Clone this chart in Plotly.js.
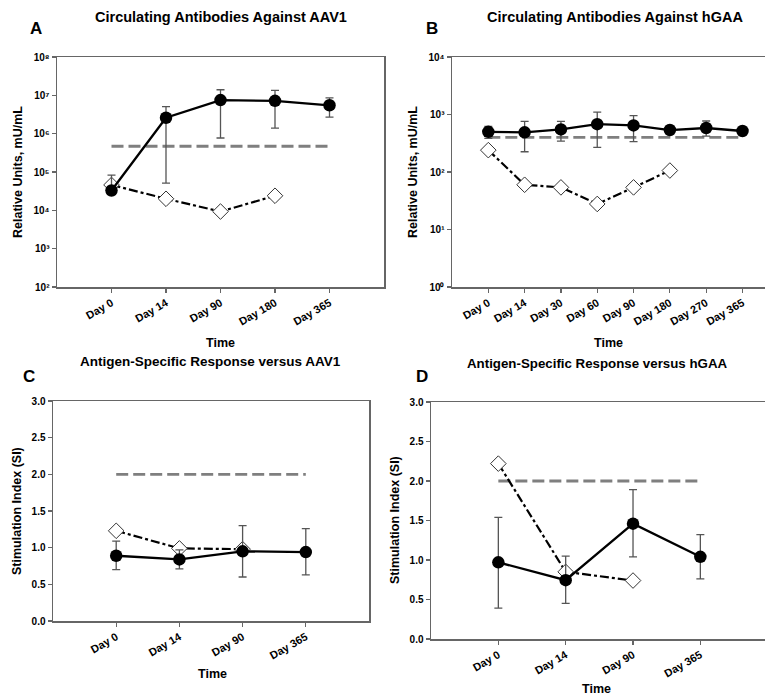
<!DOCTYPE html>
<html>
<head>
<meta charset="utf-8">
<script src="https://cdn.plot.ly/plotly-3.0.1.min.js"></script>
<style>html,body{margin:0;padding:0;background:#fff;}#chart{width:765px;height:696px;}</style>
</head>
<body>
<div id="chart"></div>
<script>
// ---- Panel A: Circulating Antibodies Against AAV1 ----
const A_days = ['Day 0', 'Day 14', 'Day 90', 'Day 180', 'Day 365'];
const A_mean = [3.3e4, 2.6e6, 7.5e6, 7.2e6, 5.5e6];
const A_upper = [8.3e4, 5.1e6, 1.4e7, 1.35e7, 8.6e6];
const A_lower = [3.3e4, 5.1e4, 7.7e5, 1.4e6, 2.7e6];
const A_ctrlDays = ['Day 0', 'Day 14', 'Day 90', 'Day 180'];
const A_ctrl = [4.6e4, 2.0e4, 9.3e3, 2.4e4];
const A_cutoff = 4.7e5;
const A_tickVals = [1e2, 1e3, 1e4, 1e5, 1e6, 1e7, 1e8];
const A_tickText = ['10²', '10³', '10⁴', '10⁵', '10⁶', '10⁷', '10⁸'];

// ---- Panel B: Circulating Antibodies Against hGAA ----
const B_days = ['Day 0', 'Day 14', 'Day 30', 'Day 60', 'Day 90', 'Day 180', 'Day 270', 'Day 365'];
const B_mean = [500, 490, 550, 680, 645, 537, 582, 516];
const B_upper = [624, 758, 758, 1096, 955, 537, 771, 516];
const B_lower = [385, 225, 345, 268, 337, 537, 421, 516];
const B_ctrlDays = ['Day 0', 'Day 14', 'Day 30', 'Day 60', 'Day 90', 'Day 180'];
const B_ctrl = [240, 60, 54, 27.8, 54, 106];
const B_cutoff = 400;
const B_tickVals = [1, 10, 100, 1e3, 1e4];
const B_tickText = ['10⁰', '10¹', '10²', '10³', '10⁴'];

// ---- Panel C: Antigen-Specific Response versus AAV1 ----
const C_days = ['Day 0', 'Day 14', 'Day 90', 'Day 365'];
const C_mean = [0.89, 0.84, 0.95, 0.94];
const C_upper = [1.09, 0.97, 1.30, 1.26];
const C_lower = [0.70, 0.71, 0.60, 0.63];
const C_ctrlDays = ['Day 0', 'Day 14', 'Day 90'];
const C_ctrl = [1.23, 0.99, 0.98];
const C_cutoff = 2.0;

// ---- Panel D: Antigen-Specific Response versus hGAA ----
const D_days = ['Day 0', 'Day 14', 'Day 90', 'Day 365'];
const D_mean = [0.97, 0.745, 1.46, 1.04];
const D_upper = [1.54, 1.05, 1.89, 1.32];
const D_lower = [0.39, 0.45, 1.04, 0.76];
const D_ctrlDays = ['Day 0', 'Day 14', 'Day 90'];
const D_ctrl = [2.22, 0.85, 0.74];
const D_cutoff = 2.0;

const siTickVals = [0, 0.5, 1.0, 1.5, 2.0, 2.5, 3.0];

const FONT = 'Liberation Sans, Arial, sans-serif';
const AXC = '#666666';

function panel(sfx, days, mean, upper, lower, ctrlDays, ctrl, cutoff) {
  const xa = 'x' + sfx, ya = 'y' + sfx;
  return [
    {x: [days[0], days[days.length - 1]], y: [cutoff, cutoff], xaxis: xa, yaxis: ya,
     mode: 'lines', line: {color: '#7f7f7f', width: 2.8, dash: '12px,5px'}, hoverinfo: 'skip'},
    {x: ctrlDays, y: ctrl, xaxis: xa, yaxis: ya, mode: 'lines+markers',
     line: {color: '#000', width: 2.2, dash: 'dashdot'},
     marker: {symbol: 'diamond', size: 12, color: '#fff', line: {color: '#333', width: 1}}},
    {x: days, y: mean, xaxis: xa, yaxis: ya, mode: 'lines+markers',
     line: {color: '#000', width: 2.3},
     marker: {symbol: 'circle', size: 12.5, color: '#000'},
     error_y: {type: 'data', symmetric: false,
       array: upper.map((u, i) => u - mean[i]),
       arrayminus: lower.map((l, i) => mean[i] - l),
       color: '#555', thickness: 1.3, width: 4}}
  ];
}

const data = [].concat(
  panel('', A_days, A_mean, A_upper, A_lower, A_ctrlDays, A_ctrl, A_cutoff),
  panel('2', B_days, B_mean, B_upper, B_lower, B_ctrlDays, B_ctrl, B_cutoff),
  panel('3', C_days, C_mean, C_upper, C_lower, C_ctrlDays, C_ctrl, C_cutoff),
  panel('4', D_days, D_mean, D_upper, D_lower, D_ctrlDays, D_ctrl, D_cutoff)
);

const W = 765, H = 696;
function xdom(l, r) { return [l / W, r / W]; }
function ydom(t, b) { return [1 - b / H, 1 - t / H]; }

function xax(dom, anchor, range, days) {
  return {domain: dom, anchor: anchor, type: 'category', categoryorder: 'array', categoryarray: days,
    range: range, showgrid: false, zeroline: false, showline: true, mirror: true,
    linecolor: AXC, linewidth: 1.5, ticks: 'outside', ticklen: 4, tickcolor: AXC, tickwidth: 1.2,
    tickangle: -30, tickfont: {family: FONT, size: 11, color: '#000', weight: 'bold'}};
}
function yax(dom, anchor, opts, mirror) {
  return Object.assign({domain: dom, anchor: anchor, showgrid: false, zeroline: false, showline: true,
    mirror: mirror, linecolor: AXC, linewidth: 1.5, ticks: 'outside', ticklen: 4, tickcolor: AXC, tickwidth: 1.2,
    tickfont: {family: FONT, size: 10, color: '#000', weight: 'bold'}}, opts);
}

const layout = {
  width: W, height: H, margin: {l: 0, r: 0, t: 0, b: 0}, showlegend: false,
  paper_bgcolor: '#fff', plot_bgcolor: '#fff',
  font: {family: FONT, color: '#000', size: 12},
  xaxis: xax(xdom(57, 384), 'y', [-1, 5], A_days),
  yaxis: yax(ydom(57, 287), 'x', {type: 'log', range: [2, 8], tickvals: A_tickVals, ticktext: A_tickText}, true),
  xaxis2: xax(xdom(452, 765), 'y2', [-1, 7.62], B_days),
  yaxis2: yax(ydom(57, 287), 'x2', {type: 'log', range: [0, 4], tickvals: B_tickVals, ticktext: B_tickText}, false),
  xaxis3: xax(xdom(53, 369), 'y3', [-1, 4], C_days),
  yaxis3: yax(ydom(401, 621), 'x3', {range: [0, 3], tickvals: siTickVals, tickformat: '.1f'}, true),
  xaxis4: xax(xdom(431, 765), 'y4', [-1, 3.96], D_days),
  yaxis4: yax(ydom(402, 639), 'x4', {range: [0, 3], tickvals: siTickVals, tickformat: '.1f'}, false),
  annotations: []
};

function ann(text, x, y, size, angle) {
  layout.annotations.push({text: text, x: x / W, y: 1 - y / H, xref: 'paper', yref: 'paper',
    showarrow: false, xanchor: 'center', yanchor: 'middle', textangle: angle || 0,
    font: {family: FONT, size: size, color: '#000', weight: 'bold'}});
}
// panel titles
ann('Circulating Antibodies Against AAV1', 221, 17, 14.5);
ann('Circulating Antibodies Against hGAA', 615, 17, 14.5);
ann('Antigen-Specific Response versus AAV1', 210, 362, 13.5);
ann('Antigen-Specific Response versus hGAA', 597, 363, 13.3);
// panel letters
ann('A', 36, 29, 17);
ann('B', 432, 29, 17);
ann('C', 29, 376, 17);
ann('D', 422, 376, 17);
// axis titles
ann('Time', 221, 343, 12.5);
ann('Time', 608, 343, 12.5);
ann('Time', 212, 674, 12.5);
ann('Time', 596, 689, 12.5);
ann('Relative Units, mU/mL', 18, 172, 12.5, -90);
ann('Relative Units, mU/mL', 413, 172, 12.5, -90);
ann('Stimulation Index (SI)', 17, 511, 12.5, -90);
ann('Stimulation Index (SI)', 395, 520, 12.5, -90);

Plotly.newPlot('chart', data, layout, {staticPlot: true});
</script>
</body>
</html>
